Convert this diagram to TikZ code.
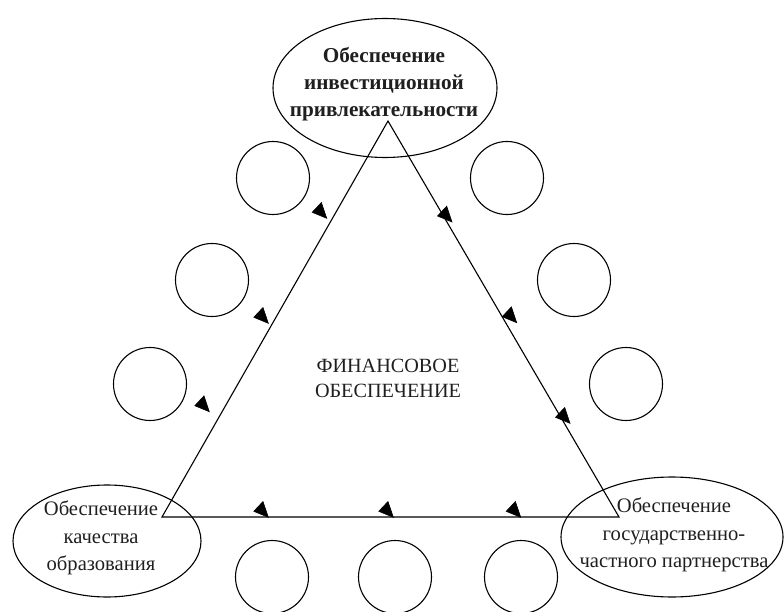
\documentclass[tikz,border=0pt]{standalone}
\usepackage{fontspec}
\setmainfont{Liberation Serif}
\usetikzlibrary{shapes.geometric}
\def\arrowhd(#1){\filldraw[line width=0.6pt] (#1) -- ++(-14.5,-6) -- ++(9.2,-9.8) -- cycle;}
\tikzset{
	goal/.style={draw, ellipse, inner sep=0pt},
	goaltext/.style={align=center, inner sep=0pt, text=black!88, font=\fontsize{20.6}{27.5}\selectfont},
	ring/.style={draw, circle, inner sep=0pt, minimum size=73pt}
}

\begin{document}
\begin{tikzpicture}[x=1pt, y=-1pt, line width=1.1pt]
			%%%%% START %%%%%
			\useasboundingbox (0,0) rectangle (784,612);
			
			\node[goal, minimum width=224pt, minimum height=139pt] (invest) at (385,88) {};
			\node[goaltext, font=\fontsize{21.2}{27}\selectfont\bfseries] (investtxt) at (384,84) {Обеспечение\\инвестиционной\\привлекательности};
			
			\node[goal, minimum width=188pt, minimum height=112pt] (quality) at (107,541) {};
			\node[goaltext] (qualitytxt) at (101,538) {Обеспечение\\качества\\образования};
			
			\node[goal, minimum width=222pt, minimum height=120pt] (partner) at (672,537) {};
			\node[goaltext] (partnertxt) at (674,535) {Обеспечение\\государственно-\\частного партнерства};
			
			\node[goaltext, font=\fontsize{20.2}{25}\selectfont] (finance) at (388,378) {ФИНАНСОВОЕ\\ОБЕСПЕЧЕНИЕ};
			
			\coordinate (apex) at (388,121);
			\coordinate (lcorner) at (162,517);
			\coordinate (rcorner) at (619,517);
			\draw (apex) -- (rcorner) -- (lcorner) -- cycle;
			
			\node[ring] (ringl1) at (273,178) {};
			\node[ring] (ringl2) at (212,280) {};
			\node[ring] (ringl3) at (150,384) {};
			\node[ring] (ringr1) at (507,178) {};
			\node[ring] (ringr2) at (574,280) {};
			\node[ring] (ringr3) at (626,384) {};
			\node[ring] (ringb1) at (272,577) {};
			\node[ring] (ringb2) at (395,577) {};
			\node[ring] (ringb3) at (521,577) {};
			
			\arrowhd(326.7,218.3)
			\arrowhd(268.3,323.3)
			\arrowhd(209.3,411.7)
			\arrowhd(452,222)
			\arrowhd(516.7,322.7)
			\arrowhd(570,423.3)
			\arrowhd(268.3,517.3)
			\arrowhd(393.3,517.3)
			\arrowhd(520.7,517.3)
			%%%%% END %%%%%
\end{tikzpicture}
\end{document}
